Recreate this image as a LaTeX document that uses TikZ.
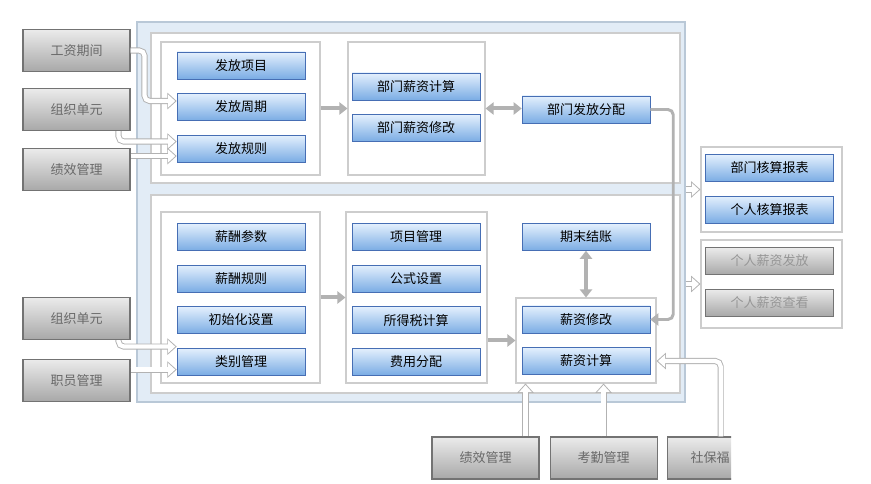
\documentclass[tikz,border=0pt]{standalone}
\usepackage{fontspec}
\newfontfamily\cjk{Noto Sans CJK SC}
\usetikzlibrary{arrows.meta, positioning, fit, calc}
\definecolor{panelbg}{RGB}{226, 236, 246}
\definecolor{paneledge}{RGB}{185, 200, 215}
\definecolor{boxedge}{RGB}{205, 205, 205}
\definecolor{btntop}{RGB}{228, 240, 253}
\definecolor{btnbot}{RGB}{122, 172, 228}
\definecolor{btnedge}{RGB}{70, 110, 180}
\definecolor{graytop}{RGB}{235, 235, 235}
\definecolor{graybot}{RGB}{168, 168, 168}
\definecolor{grayedge}{RGB}{115, 115, 115}
\definecolor{graytext}{RGB}{105, 105, 105}
\definecolor{dimtext}{RGB}{150, 150, 150}
\definecolor{arrowgray}{RGB}{178, 178, 178}
\tikzset{
  btn/.style={
    rectangle, inner sep=0pt,
    minimum width=96pt, minimum height=20.25pt,
    text centered, font=\cjk\fontsize{9.75}{11}\selectfont
  },
  bluebtn/.style={
    btn,
    top color=btntop, bottom color=btnbot, draw=btnedge
  },
  graybtn/.style={
    btn,
    top color=graytop, bottom color=graybot, draw=grayedge,
    text=dimtext
  },
  srcblock/.style={
    rectangle, inner sep=0pt,
    minimum width=80.25pt, minimum height=31.5pt,
    text centered, font=\cjk\fontsize{9.75}{11}\selectfont,
    top color=graytop, bottom color=graybot, draw=grayedge,
    line width=0.8pt, text=graytext
  },
  outerpanel/.style={
    rectangle, inner sep=0pt,
    fill=panelbg, draw=paneledge, line width=0.8pt
  },
  panel/.style={
    rectangle, inner sep=0pt,
    fill=white, draw=boxedge, line width=0.8pt
  },
  arr/.style={
    -{Triangle[length=6pt, width=9pt]}, line width=3pt, color=arrowgray
  },
  dblarr/.style={
    {Triangle[length=6pt, width=9pt]}-{Triangle[length=6pt, width=9pt]},
    line width=3pt, color=arrowgray
  },
  bendarr/.style={
    -{Triangle[length=6pt, width=9pt]}, line width=2.2pt, color=arrowgray,
    rounded corners=4pt
  },
  openbg/.style={
    -{Triangle[length=7pt, width=12pt]}, draw=arrowgray,
    line width=4.6pt, rounded corners=4pt
  },
  openfg/.style={
    -{Triangle[length=5.4pt, width=9.4pt]}, draw=white,
    line width=3.2pt, rounded corners=4pt, shorten >=1.1pt
  }
}
\newcommand{\openlink}[1]{\draw[openbg] #1; \draw[openfg] #1;}

\begin{document}
\begin{tikzpicture}[x=0.75pt, y=-0.75pt, node distance=10.5pt]
  \useasboundingbox (0,0) rectangle (871,484);

  % ── Panels ─────────────────────────────────────────────────
  \node[outerpanel, fit={(137,22) (685,402)}] (outer) {};
  \node[panel, fit={(151,33) (680,183)}]  (toppanel) {};
  \node[panel, fit={(151,195) (680,393)}] (botpanel) {};
  \node[panel, fit={(161,42) (320,175)}]  (g1) {};
  \node[panel, fit={(348,42) (485,175)}]  (g2) {};
  \node[panel, fit={(161,212) (320,383)}] (g3) {};
  \node[panel, fit={(346,212) (487,383)}] (g4) {};
  \node[panel, fit={(516,298) (656,383)}] (g5) {};
  \node[panel, fit={(701,147) (842,232)}] (r1) {};
  \node[panel, fit={(701,240) (842,328)}] (r2) {};

  % ── Upper section ──────────────────────────────────────────
  \node[bluebtn] (ffxm) at (241,65.5) {发放项目};
  \node[bluebtn, below=of ffxm] (ffzq) {发放周期};
  \node[bluebtn, below=of ffzq] (ffgz) {发放规则};
  \node[bluebtn] (bmjs) at (416,86.5) {部门薪资计算};
  \node[bluebtn, below=of bmjs] (bmxg) {部门薪资修改};
  \node[bluebtn] (bmfp) at (586,109.5) {部门发放分配};

  % ── Lower section ──────────────────────────────────────────
  \node[bluebtn] (xccs) at (241,237) {薪酬参数};
  \node[bluebtn, below=of xccs] (xcgz) {薪酬规则};
  \node[bluebtn, below=of xcgz] (csh)  {初始化设置};
  \node[bluebtn, below=of csh]  (lbgl) {类别管理};
  \node[bluebtn] (xmgl) at (416,237) {项目管理};
  \node[bluebtn, below=of xmgl]  (gssz)  {公式设置};
  \node[bluebtn, below=of gssz]  (sdsjs) {所得税计算};
  \node[bluebtn, below=of sdsjs] (fyfp)  {费用分配};
  \node[bluebtn] (qmjz) at (586,237) {期末结账};
  \node[bluebtn] (xzxg) at (586,319.5) {薪资修改};
  \node[bluebtn, below=of xzxg] (xzjs) {薪资计算};

  % ── Reports ────────────────────────────────────────────────
  \node[bluebtn] (bmhs) at (769.5,168) {部门核算报表};
  \node[bluebtn, below=of bmhs] (grhs) {个人核算报表};
  \node[graybtn] (grff) at (769.5,261) {个人薪资发放};
  \node[graybtn, below=of grff] (grck) {个人薪资查看};

  % ── Source systems ─────────────────────────────────────────
  \node[srcblock] (gzqj) at (76.5,50.5) {工资期间};
  \node[srcblock, below=12pt of gzqj]    (zzdy) {组织单元};
  \node[srcblock, below=12.75pt of zzdy] (jxgl) {绩效管理};
  \node[srcblock] (zzdyb) at (76.5,318.5) {组织单元};
  \node[srcblock, below=14pt of zzdyb]   (zygl) {职员管理};
  \node[srcblock] (jxglb) at (485.5,458) {绩效管理};
  \node[srcblock, right=7.5pt of jxglb]  (kqgl) {考勤管理};
  \begin{scope}
    \clip (660,420) rectangle (731,484);
    \node[srcblock, right=6.75pt of kqgl] (sbfl) {社保福\phantom{福}\kern0.6em};
  \end{scope}

  % ── Main flow arrows ───────────────────────────────────────
  \draw[arr]    (g1) -- (g2);
  \draw[dblarr] (g2.east) -- (g2.east -| bmfp.west);
  \draw[arr]    (g3) -- (g4);
  \draw[arr]    (g4.east |- g5) -- (g5);
  \draw[dblarr] (qmjz) -- (g5);
  \draw[bendarr] (bmfp.east) -- ++(23,0) |- (xzxg.east);

  % ── Inputs and outputs ─────────────────────────────────────
  \coordinate (ffzqin)  at ($(ffzq.west)+(0,-6)$);
  \coordinate (ffgzin)  at ($(ffgz.west)+(0,-7)$);
  \coordinate (ffgzin2) at ($(ffgz.west)+(0,7.5)$);
  \coordinate (lbglin)  at ($(lbgl.west)+(0,-15)$);
  \coordinate (lbglin2) at ($(lbgl.west)+(0,8)$);
  \coordinate (jxup)    at ($(jxglb.north)+(40,0)$);
  \openlink{(gzqj.east) -- ++(14,0) |- (ffzqin)}
  \openlink{($(zzdy.south east)+(-12,0)$) |- (ffgzin)}
  \openlink{(jxgl.east |- ffgzin2) -- (ffgzin2)}
  \openlink{($(zzdyb.south east)+(-12,0)$) |- (lbglin)}
  \openlink{(zygl.east |- lbglin2) -- (lbglin2)}
  \openlink{(jxup) -- (jxup |- g5.south)}
  \openlink{(kqgl.north) -- (kqgl.north |- g5.south)}
  \openlink{(sbfl.north) |- (g5.east |- xzjs)}
  \openlink{(outer.east |- r1.west) -- (r1.west)}
  \openlink{(outer.east |- r2.west) -- (r2.west)}

\end{tikzpicture}
\end{document}
